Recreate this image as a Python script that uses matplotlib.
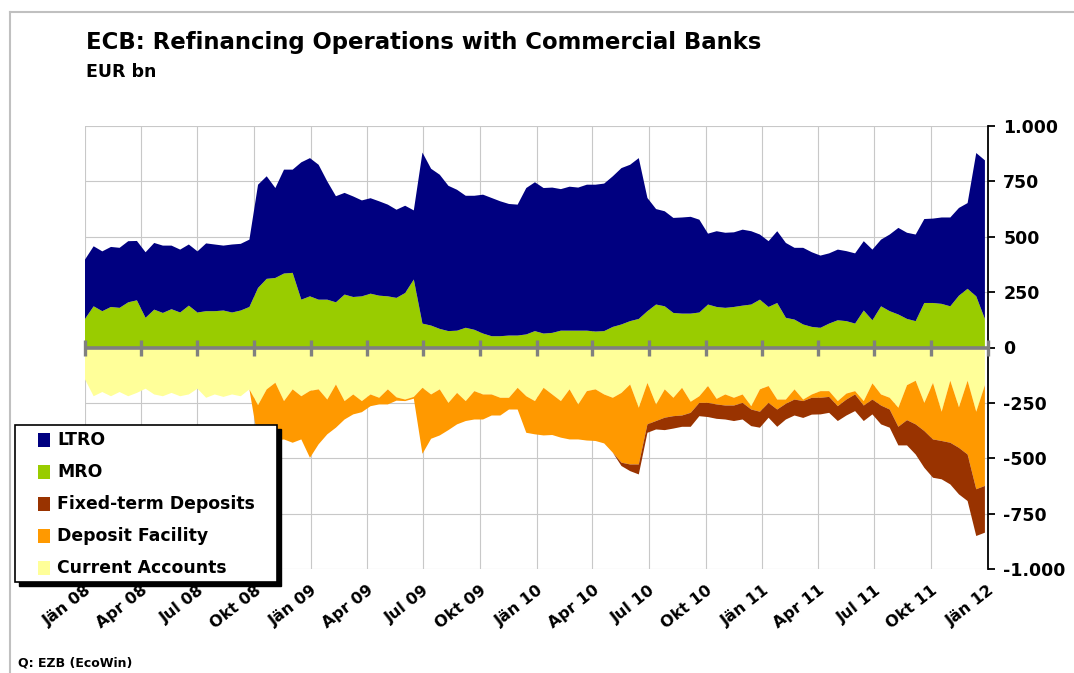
import matplotlib
matplotlib.use("Agg")
import matplotlib.pyplot as plt
import pandas as pd
from matplotlib.patches import Rectangle
from matplotlib.lines import Line2D

# ---------------- data (EUR bn, biweekly readings) ----------------
dates = pd.date_range("2008-01-01", periods=105, freq="14D")

mro = [129, 186, 164, 183, 179, 204, 213, 134, 171, 156,
       173, 158, 189, 158, 164, 164, 167, 158, 167, 183,
       269, 310, 314, 334, 337, 216, 231, 216, 216, 204,
       239, 228, 231, 243, 234, 231, 224, 246, 307, 108,
       99, 84, 74, 76, 89, 80, 63, 51, 51, 54,
       54, 59, 74, 63, 66, 76, 76, 76, 76, 72,
       74, 93, 104, 119, 129, 164, 194, 186, 156, 153,
       153, 158, 194, 183, 179, 183, 189, 194, 216, 183,
       201, 134, 126, 104, 93, 89, 108, 123, 119, 108,
       167, 123, 186, 164, 149, 129, 119, 201, 201, 197,
       186, 234, 265, 231, 129]

ltro = [268, 271, 270, 271, 271, 276, 268, 296, 301, 304,
        287, 284, 276, 276, 306, 301, 293, 307, 301, 304,
        466, 463, 406, 469, 466, 620, 624, 609, 534, 479,
        459, 454, 433, 431, 426, 414, 398, 394, 312, 772,
        708, 696, 656, 636, 596, 605, 627, 624, 609, 594,
        591, 661, 672, 657, 656, 639, 650, 646, 659, 663,
        666, 680, 706, 706, 726, 511, 431, 429, 429, 434,
        437, 419, 320, 342, 339, 337, 343, 331, 294, 297,
        324, 338, 324, 346, 337, 326, 317, 319, 316, 317,
        313, 319, 301, 346, 391, 389, 391, 379, 381, 390,
        401, 396, 387, 647, 716]

current_accounts = [-144, -220, -201, -220, -201, -220, -205, -186, -212, -220,
                    -205, -220, -212, -186, -227, -212, -223, -212, -220, -189,
                    -260, -189, -159, -242, -189, -220, -196, -189, -235, -167,
                    -242, -212, -242, -212, -227, -189, -225, -235, -223, -182,
                    -212, -189, -250, -205, -242, -197, -212, -212, -227, -227,
                    -182, -220, -242, -182, -212, -242, -189, -257, -197, -189,
                    -212, -227, -205, -167, -272, -160, -257, -189, -227, -182,
                    -245, -220, -174, -232, -212, -227, -212, -265, -189, -174,
                    -235, -235, -189, -235, -212, -197, -197, -242, -208, -197,
                    -242, -162, -212, -227, -272, -170, -150, -250, -160, -290,
                    -150, -270, -150, -290, -170]

deposit_facility = [0, 0, 0, 0, 0, 0, 0, 0, 0, 0,
                    0, 0, 0, 0, 0, 0, 0, 0, 0, 0,
                    -160, -251, -261, -173, -241, -195, -302, -248, -157, -195,
                    -83, -90, -50, -53, -30, -68, -15, -7, -8, -298,
                    -200, -208, -123, -142, -90, -128, -113, -95, -80, -53,
                    -98, -165, -150, -215, -183, -165, -226, -158, -223, -233,
                    -221, -248, -315, -361, -256, -187, -75, -128, -83, -125,
                    -50, -30, -76, -25, -50, -35, -38, -15, -101, -76,
                    -45, -19, -46, -7, -15, -30, -26, -23, -27, -15,
                    -20, -73, -50, -53, -86, -158, -197, -127, -255, -132,
                    -280, -183, -333, -350, -455]

fixed_term_deposits = [0, 0, 0, 0, 0, 0, 0, 0, 0, 0,
                       0, 0, 0, 0, 0, 0, 0, 0, 0, 0,
                       0, 0, 0, 0, 0, 0, 0, 0, 0, 0,
                       0, 0, 0, 0, 0, 0, 0, 0, 0, 0,
                       0, 0, 0, 0, 0, 0, 0, 0, 0, 0,
                       0, 0, 0, 0, 0, 0, 0, 0, 0, 0,
                       0, 0, -15, -30, -45, -38, -38, -56, -56, -51,
                       -63, -60, -64, -65, -63, -70, -75, -75, -72, -67,
                       -78, -71, -72, -76, -76, -75, -72, -67, -72, -75,
                       -70, -67, -85, -82, -84, -114, -136, -166, -173, -173,
                       -188, -210, -210, -211, -211]

tick_dates = pd.date_range("2008-01-01", "2012-01-01", freq="QS")
tick_labels = ["Jän 08", "Apr 08", "Jul 08", "Okt 08", "Jän 09", "Apr 09",
               "Jul 09", "Okt 09", "Jän 10", "Apr 10", "Jul 10", "Okt 10",
               "Jän 11", "Apr 11", "Jul 11", "Okt 11", "Jän 12"]
y_ticks = [-1000, -750, -500, -250, 0, 250, 500, 750, 1000]
y_tick_labels = ["-1.000", "-750", "-500", "-250", "0", "250", "500", "750", "1.000"]

series_names = ["LTRO", "MRO", "Fixed-term Deposits", "Deposit Facility", "Current Accounts"]
series_colors = ["#000080", "#99CC00", "#993300", "#FF9900", "#FFFF99"]

# ---------------- figure ----------------
plt.rcParams["font.family"] = ["DejaVu Sans"]
plt.rcParams["font.weight"] = "bold"

W, H = 1074, 673
fig = plt.figure(figsize=(W / 100, H / 100), dpi=100)
fig.patch.set_facecolor("white")

def fx(x):
    return x / W

def fy(y):
    return 1 - y / H

ax = fig.add_axes([fx(85), fy(569), (988 - 85) / W, (569 - 126) / H])

ax.stackplot(dates, mro, ltro, colors=[series_colors[1], series_colors[0]],
             linewidth=0, zorder=2)
ax.stackplot(dates, current_accounts, deposit_facility, fixed_term_deposits,
             colors=[series_colors[4], series_colors[3], series_colors[2]],
             linewidth=0, zorder=2)

ax.set_xlim(pd.Timestamp("2008-01-01"), pd.Timestamp("2012-01-01"))
ax.set_ylim(-1000, 1000)

ax.set_axisbelow(True)
ax.grid(True, color="#C8C8C8", linewidth=0.8)

ax.set_yticks(y_ticks)
ax.set_yticklabels(y_tick_labels)
ax.yaxis.tick_right()
ax.tick_params(axis="y", direction="out", length=5, width=1.3, colors="black",
               labelsize=12.5, pad=6)
for lab in ax.get_yticklabels():
    lab.set_fontweight("bold")

ax.set_xticks(tick_dates)
ax.set_xticklabels(tick_labels, rotation=38, ha="right", va="top",
                   rotation_mode="anchor", fontsize=11.5, fontweight="bold")
ax.tick_params(axis="x", length=0, pad=10)

for s in ["top", "left", "bottom"]:
    ax.spines[s].set_visible(False)
ax.spines["right"].set_color("black")
ax.spines["right"].set_linewidth(1.3)

# zero axis with quarterly tick marks
ax.axhline(0, color="#808080", linewidth=2.6, zorder=4)
ax.plot(tick_dates, [0] * len(tick_dates), linestyle="none", marker="|",
        markersize=11, markeredgewidth=2.4, color="#808080", zorder=4,
        clip_on=False)

# titles
fig.text(fx(86), fy(42), "ECB: Refinancing Operations with Commercial Banks",
         fontsize=16.4, fontweight="bold", va="center", ha="left")
fig.text(fx(86), fy(72), "EUR bn", fontsize=12.5, fontweight="bold",
         va="center", ha="left")
fig.text(fx(18), fy(663), "Q: EZB (EcoWin)", fontsize=9, fontweight="bold",
         va="center", ha="left")

# outer frame
fig.add_artist(Line2D([fx(10), fx(10)], [0, fy(12)], color="#C0C0C0", lw=1.5))
fig.add_artist(Line2D([fx(10), 1], [fy(12), fy(12)], color="#C0C0C0", lw=1.5))

# legend (manual, with solid shadow)
lx0, ly0, lx1, ly1 = 15, 425, 277, 582
fig.add_artist(Rectangle((fx(lx0 + 4), fy(ly1 + 4)), (lx1 - lx0) / W, (ly1 - ly0) / H,
                         transform=fig.transFigure, facecolor="black",
                         edgecolor="black", zorder=10))
fig.add_artist(Rectangle((fx(lx0), fy(ly1)), (lx1 - lx0) / W, (ly1 - ly0) / H,
                         transform=fig.transFigure, facecolor="white",
                         edgecolor="black", lw=1.2, zorder=11))
row_y = [440, 472, 504, 536, 568]
for name, col, yy in zip(series_names, series_colors, row_y):
    fig.add_artist(Rectangle((fx(38), fy(yy + 7)), 12 / W, 14 / H,
                             transform=fig.transFigure, facecolor=col,
                             edgecolor="none", zorder=12))
    fig.text(fx(57), fy(yy), name, fontsize=12.4, fontweight="bold",
             va="center", ha="left", zorder=12)

fig.savefig("out.png", dpi=100, facecolor="white")
